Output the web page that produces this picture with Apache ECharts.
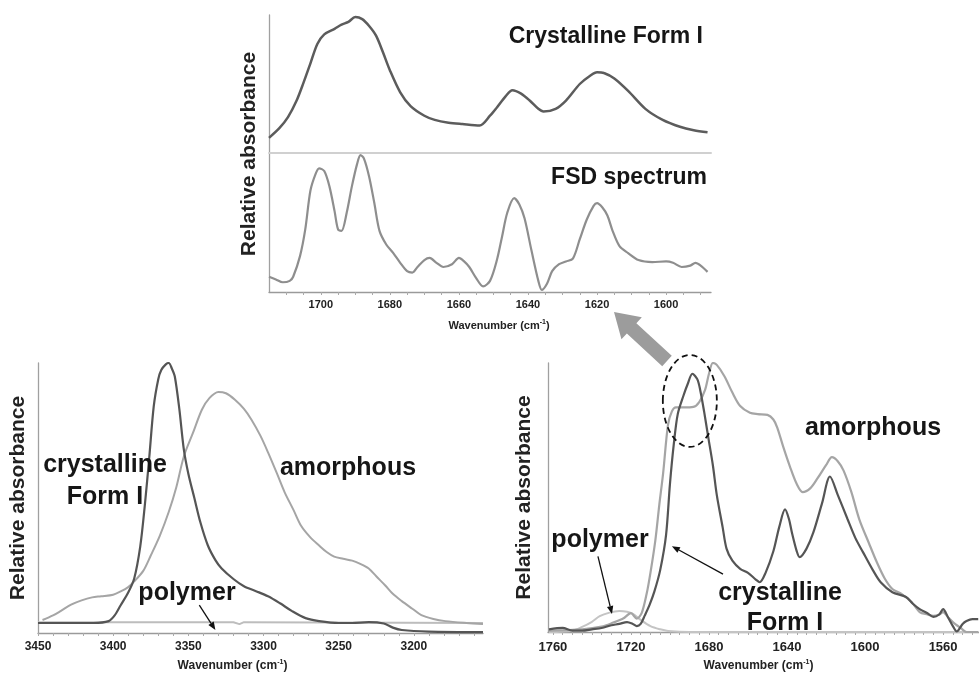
<!DOCTYPE html>
<html>
<head>
<meta charset="utf-8">
<script src="https://cdn.jsdelivr.net/npm/echarts@6/dist/echarts.min.js"></script>
<style>
html,body{margin:0;padding:0;background:#fff;}
#c{width:979px;height:674px;}
</style>
</head>
<body>
<div id="c"></div>
<script>
// ---------- DATA (wavenumber cm-1, relative absorbance 0-100) ----------
// Top inset: crystalline Form I amide I region
const topCrystalline = [[1715,11],[1712,18],[1709.5,26],[1707,38],[1705,51],[1703,65],[1701,79],[1699,86],[1696,90],[1694,93],[1692,95],[1690,98.5],[1688,97],[1686,92],[1684,85],[1682,73],[1680,60],[1677,44],[1674,34],[1670,27],[1667,24],[1663,22],[1659,21],[1654,20],[1651,27],[1649,33],[1646.5,41],[1644.5,45.5],[1642,43],[1639.5,38],[1637,32],[1635.5,30],[1632,32],[1629,38],[1625,50],[1622,56],[1620,58.5],[1618,58],[1615,54],[1611,45],[1606,32],[1601,24],[1596,19],[1592,16.5],[1588,15]];
// Top inset: FSD spectrum
const fsdSpectrum = [[1715,11],[1713,9],[1711,7],[1709,8],[1708,11],[1706,26],[1704.5,45],[1703,73],[1701.5,85],[1700.5,89],[1699,87],[1697.5,76],[1696,58],[1695,45],[1694,44],[1692.5,57],[1691,76],[1689.5,92],[1688.5,98.5],[1687.5,96],[1686,83],[1684.5,64],[1683,44],[1681,34],[1679,28],[1677,21],[1675,15],[1673.5,14],[1672,18],[1670,23],[1668.5,24.5],[1666.5,21],[1664.5,18],[1662,20],[1660,24.5],[1658.5,22],[1657,18],[1655,10],[1653,4],[1651,8],[1649,23],[1647.5,40],[1646,57],[1644,67.5],[1642.5,63],[1641,53],[1639,30],[1637,8],[1636,1.5],[1634.5,6],[1633,15],[1631,20],[1629,22],[1627,24],[1625,38],[1623,52],[1621,62],[1620,64],[1618.5,61],[1617,55],[1615.5,44],[1613.5,33],[1611,28],[1608,23],[1604,21.5],[1600,22],[1598,21],[1595.5,18],[1593,19],[1591.5,21],[1590,19],[1588,14.5]];
// Bottom-left: N-H stretch region
const nhCrystalline = [[3450,3.7],[3430,3.7],[3413,3.7],[3403,4.4],[3399,6.5],[3395,10.3],[3390,15],[3386,20.2],[3382,32],[3379,47],[3376,65],[3373,84],[3370,94],[3368,97.4],[3365,99.5],[3363,100],[3361,98],[3359,95],[3356,83],[3353,68],[3350,59],[3346,50],[3342,41],[3337,32.4],[3332,27],[3328,24],[3320,20],[3313,17.3],[3305,15.5],[3297,13.6],[3289,11],[3281,8.1],[3272,5.5],[3263,4.4],[3250,3.7],[3241,3.7],[3230,4],[3220,3.5],[3214,2],[3208,1.1],[3190,0.5],[3154,0.3]];
const nhAmorphous = [[3447,4.8],[3440,6.5],[3435,8.1],[3428,10.5],[3421,12.1],[3414,13.2],[3408,13.6],[3400,14.2],[3395,15.4],[3390,17],[3386,19.1],[3380,23],[3375,28.7],[3369,36],[3363,44.9],[3358,54],[3353,65.4],[3347,74],[3341,82.7],[3336,87],[3330,89.3],[3325,88.8],[3319,86.4],[3313,83],[3308,79],[3302,73],[3297,66.9],[3291,59],[3286,52.2],[3280,45.5],[3275,39.7],[3269,35.5],[3263,32.4],[3258,30],[3253,28.3],[3247,27.5],[3241,26.8],[3236,25.7],[3230,23.9],[3225,21],[3219,17.6],[3214,14.5],[3208,11.8],[3201,9],[3195,6.6],[3187,5.2],[3179,4.4],[3165,3.7],[3154,3.3]];
const nhPolymer = [[3450,4],[3320,4],[3316,3.3],[3313,4],[3154,3.7]];
// Bottom-right: amide I region
const c1Crystalline = [[1762,1],[1755,1.5],[1750,0.5],[1745,0.5],[1740,1],[1735,1.5],[1730,2.5],[1726,3],[1722,3.7],[1719,3],[1717,2.2],[1715,3],[1713,6],[1710.5,10],[1708,15],[1705,23],[1702,36],[1700,55],[1698,70],[1696,81],[1693,88],[1691,92],[1688.5,96],[1686,94],[1684.5,90],[1682.5,82],[1680.5,73],[1678,62],[1676,51],[1673,39],[1671,31],[1668,26.5],[1664,23.5],[1660,22],[1656,19.5],[1654,18.5],[1651,22],[1647,30],[1644,39],[1641,45.6],[1639,42],[1637.5,37],[1635,30],[1633.5,27.8],[1630,31],[1626.5,37],[1622,48],[1618,57.8],[1614,51],[1609,42],[1605,35],[1601,29.6],[1596,23],[1592,18.5],[1586,14.8],[1579,13],[1575.5,10.5],[1572,8.5],[1568,7],[1565,5.6],[1562,6.5],[1560,8.5],[1557.5,5.5],[1555,2.2],[1553,0.2],[1550,3],[1548,4.1],[1545,4.8],[1542,4.8]];
const c1Amorphous = [[1762,0.5],[1745,1],[1735,2],[1729,3.5],[1724,5],[1720,7],[1717,5],[1714.5,7],[1712,14],[1710,22],[1707.5,34],[1705.5,47],[1703.5,59],[1701,77],[1699,82],[1697,83.5],[1693,83.5],[1688,83.7],[1685,85.5],[1682,90],[1680,96],[1678,100],[1676,99.3],[1672,95],[1668,89],[1664,84],[1659,81.5],[1655,81],[1650,80.7],[1647,79],[1645,76],[1642,69],[1638.5,61.5],[1635,55],[1632,52],[1628,53.5],[1624.5,57],[1620,62],[1617,65],[1614,63.5],[1611,60],[1607,52],[1603,42],[1598,33],[1594,26],[1590,20],[1586,16],[1581,14],[1576,11],[1572,7.4],[1568,6.5],[1565,6],[1562,6.5],[1560,7.4],[1557.5,5.5],[1555,3.7],[1551,1.5],[1548,0],[1542,0]];
const c1Polymer = [[1762,0],[1750,0.5],[1745,1.9],[1740,3.8],[1736,5.9],[1731,7.2],[1726,7.8],[1722,7.5],[1719,6.7],[1715,4.5],[1710,2.2],[1705,1],[1701,0.4],[1690,0],[1542,0]];

// Tick labels
const topTicks = [1700,1680,1660,1640,1620,1600];
const nhTicks = [3450,3400,3350,3300,3250,3200];
const c1Ticks = [1760,1720,1680,1640,1600,1560];

// ---------- CHART ----------
const FONT = 'Liberation Sans, Arial, sans-serif';
const chart = echarts.init(document.getElementById('c'));

function range(a, b, s) { const r = []; for (let v = a; s > 0 ? v <= b : v >= b; v += s) r.push(v); return r; }
function plain(v) { return String(v); }

const nameRich = {
  s: { fontSize: 7, fontWeight: 'bold', fontFamily: FONT, color: '#222', verticalAlign: 'top', lineHeight: 14 }
};
function xName(fs, pad) {
  return {
    name: 'Wavenumber (cm{s|-1})',
    nameLocation: 'middle',
    nameTextStyle: { fontSize: fs, fontWeight: 'bold', fontFamily: FONT, color: '#222', lineHeight: 14, padding: pad, rich: nameRich }
  };
}
const axisLineGray = { show: true, lineStyle: { color: '#9a9a9a', width: 1.3 } };

const option = {
  animation: false,
  backgroundColor: '#fff',
  grid: [
    { left: 269, right: 268, top: 15, height: 138 },
    { left: 269, right: 268, top: 153, height: 139 },
    { left: 38, right: 496, top: 363, height: 272 },
    { left: 548, right: 0, top: 363, height: 270 }
  ],
  xAxis: [
    { gridIndex: 0, type: 'value', min: 1587, max: 1715, inverse: true,
      axisLine: { show: true, lineStyle: { color: '#d0d0d0', width: 2 } },
      axisLabel: { show: false }, axisTick: { show: false }, splitLine: { show: false } },
    Object.assign({ gridIndex: 1, type: 'value', min: 1587, max: 1715, inverse: true,
      axisLine: axisLineGray,
      axisTick: { show: true, length: 3, customValues: range(1710, 1590, -5), lineStyle: { color: '#aaa' } },
      axisLabel: { customValues: topTicks, formatter: plain, fontSize: 11, fontWeight: 'bold', fontFamily: FONT, color: '#222', margin: 7 },
      splitLine: { show: false }, nameGap: 27 }, xName(11, [0, 0, 0, 18])),
    Object.assign({ gridIndex: 2, type: 'value', min: 3154, max: 3450, inverse: true,
      axisLine: axisLineGray,
      axisTick: { show: true, length: 3, customValues: range(3450, 3160, -10), lineStyle: { color: '#aaa' } },
      axisLabel: { customValues: nhTicks, formatter: plain, fontSize: 12, fontWeight: 'bold', fontFamily: FONT, color: '#222', margin: 8 },
      splitLine: { show: false }, nameGap: 26 }, xName(12, [0, 56, 0, 0])),
    Object.assign({ gridIndex: 3, type: 'value', min: 1541.6, max: 1762.5, inverse: true,
      axisLine: axisLineGray,
      axisTick: { show: true, length: 3, customValues: range(1760, 1545, -5), lineStyle: { color: '#aaa' } },
      axisLabel: { customValues: c1Ticks, formatter: plain, fontSize: 13, fontWeight: 'bold', fontFamily: FONT, color: '#222', margin: 9 },
      splitLine: { show: false }, nameGap: 27 }, xName(12, [0, 10, 0, 0]))
  ],
  yAxis: [0, 1, 2, 3].map(function (g) {
    const ax = { gridIndex: g, type: 'value', min: 0, max: 100,
      axisLine: { show: true, lineStyle: { color: '#a0a0a0', width: 1.3 } },
      axisLabel: { show: false }, axisTick: { show: false }, splitLine: { show: false } };
    if (g >= 2) {
      ax.name = 'Relative absorbance';
      ax.nameLocation = 'middle';
      ax.nameGap = g === 2 ? 9 : 13;
      ax.nameTextStyle = { fontSize: 21, fontWeight: 'bold', fontFamily: FONT, color: '#222' };
    }
    return ax;
  }),
  series: [
    { name: 'Crystalline Form I', type: 'line', xAxisIndex: 0, yAxisIndex: 0, data: topCrystalline, showSymbol: false, smooth: 0.3, lineStyle: { color: '#5c5c5c', width: 2.5 } },
    { name: 'FSD spectrum', type: 'line', xAxisIndex: 1, yAxisIndex: 1, data: fsdSpectrum, showSymbol: false, smooth: 0.3, lineStyle: { color: '#8e8e8e', width: 2.2 } },
    { name: 'polymer (N-H)', type: 'line', xAxisIndex: 2, yAxisIndex: 2, data: nhPolymer, showSymbol: false, lineStyle: { color: '#bdbdbd', width: 2 } },
    { name: 'amorphous (N-H)', type: 'line', xAxisIndex: 2, yAxisIndex: 2, data: nhAmorphous, showSymbol: false, smooth: 0.3, lineStyle: { color: '#a5a5a5', width: 2 } },
    { name: 'crystalline Form I (N-H)', type: 'line', xAxisIndex: 2, yAxisIndex: 2, data: nhCrystalline, showSymbol: false, smooth: 0.3, lineStyle: { color: '#555', width: 2.2 } },
    { name: 'polymer (C=O)', type: 'line', xAxisIndex: 3, yAxisIndex: 3, data: c1Polymer, showSymbol: false, smooth: 0.3, lineStyle: { color: '#c4c4c4', width: 2 } },
    { name: 'amorphous (C=O)', type: 'line', xAxisIndex: 3, yAxisIndex: 3, data: c1Amorphous, showSymbol: false, smooth: 0.3, lineStyle: { color: '#a5a5a5', width: 2.2 } },
    { name: 'crystalline Form I (C=O)', type: 'line', xAxisIndex: 3, yAxisIndex: 3, data: c1Crystalline, showSymbol: false, smooth: 0.3, lineStyle: { color: '#555', width: 2.2 } }
  ]
};
chart.setOption(option);

// ---------- ANNOTATIONS ----------
function px(g, wn, v) { return chart.convertToPixel({ gridIndex: g }, [wn, v]); }
function label(text, x, y, size, align) {
  return { type: 'text', x: x, y: y, z: 50, style: { text: text, fontSize: size, fontWeight: 'bold', fontFamily: FONT, fill: '#161616', align: align || 'center', verticalAlign: 'middle' } };
}
function arrow(a, b, color, w, head) {
  const dx = b[0] - a[0], dy = b[1] - a[1], L = Math.hypot(dx, dy);
  const ux = dx / L, uy = dy / L, nx = -uy, ny = ux;
  const bx = b[0] - ux * head, by = b[1] - uy * head;
  return [
    { type: 'line', z: 40, shape: { x1: a[0], y1: a[1], x2: bx, y2: by }, style: { stroke: color, lineWidth: w } },
    { type: 'polygon', z: 40, shape: { points: [[b[0], b[1]], [bx + nx * head * 0.4, by + ny * head * 0.4], [bx - nx * head * 0.4, by - ny * head * 0.4]] }, style: { fill: color } }
  ];
}
function bigArrow(tail, tip, bodyHalf, headHalf, headLen, color) {
  const dx = tip[0] - tail[0], dy = tip[1] - tail[1], L = Math.hypot(dx, dy);
  const ux = dx / L, uy = dy / L, nx = -uy, ny = ux;
  const bx = tip[0] - ux * headLen, by = tip[1] - uy * headLen;
  return { type: 'polygon', z: 45, shape: { points: [
    [tail[0] + nx * bodyHalf, tail[1] + ny * bodyHalf],
    [bx + nx * bodyHalf, by + ny * bodyHalf],
    [bx + nx * headHalf, by + ny * headHalf],
    [tip[0], tip[1]],
    [bx - nx * headHalf, by - ny * headHalf],
    [bx - nx * bodyHalf, by - ny * bodyHalf],
    [tail[0] - nx * bodyHalf, tail[1] - ny * bodyHalf]
  ] }, style: { fill: '#9c9c9c' } };
}

const ell = px(3, 1689.8, 85.9);
const graphics = [
  { type: 'text', x: 249, y: 154, rotation: Math.PI / 2, z: 50, style: { text: 'Relative absorbance', fontSize: 21, fontWeight: 'bold', fontFamily: FONT, fill: '#222', align: 'center', verticalAlign: 'middle' } },
  label('Crystalline Form I', 703, 37, 23, 'right'),
  label('FSD spectrum', 707, 178, 23, 'right'),
  label('crystalline', 105, 465, 25),
  label('Form I', 105, 497, 25),
  label('amorphous', 348, 468, 25),
  label('polymer', 187, 593, 25),
  label('amorphous', 873, 428, 25),
  label('polymer', 600, 540, 25),
  label('crystalline', 780, 593, 25),
  label('Form I', 785, 623, 25),
  { type: 'ellipse', z: 46, shape: { cx: ell[0], cy: ell[1], rx: 27, ry: 46 }, style: { fill: 'none', stroke: '#111', lineWidth: 1.8, lineDash: [6, 4] } },
  bigArrow([667, 361], [614, 312], 7, 15, 24)
]
  .concat(arrow(px(2, 3342.7, 10.3), px(2, 3332, 1.1), '#111', 1.3, 8))
  .concat(arrow(px(3, 1736.9, 28.1), px(3, 1729.7, 6.7), '#111', 1.3, 8))
  .concat(arrow(px(3, 1672.8, 21.5), px(3, 1699, 31.9), '#111', 1.3, 8));

chart.setOption({ graphic: graphics });
</script>
</body>
</html>
